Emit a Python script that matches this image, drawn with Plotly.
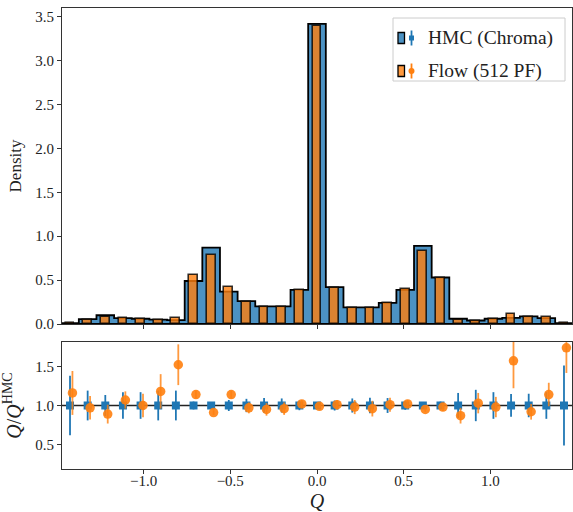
import plotly.graph_objects as go

# ---------------- data ----------------
bin_index = list(range(-14, 15))
bin_width = 0.1017

hmc_density = [0.010, 0.055, 0.100, 0.068, 0.060, 0.050, 0.045, 0.490, 0.870, 0.370,
               0.260, 0.200, 0.200, 0.390, 3.420, 0.420, 0.190, 0.190, 0.240, 0.390,
               0.890, 0.530, 0.060, 0.040, 0.060, 0.070, 0.087, 0.068, 0.010]
flow_density = [0.012, 0.050, 0.085, 0.065, 0.060, 0.050, 0.068, 0.560, 0.790, 0.420,
                0.250, 0.195, 0.195, 0.390, 3.390, 0.410, 0.185, 0.185, 0.245, 0.400,
                0.830, 0.520, 0.050, 0.040, 0.055, 0.110, 0.080, 0.078, 0.017]

hmc_ratio = [1.0] * 29
hmc_ratio_err = [0.38, 0.19, 0.134, 0.17, 0.17, 0.19, 0.19, 0.05, 0.035, 0.07,
                 0.085, 0.094, 0.09, 0.06, 0.02, 0.064, 0.09, 0.10, 0.095, 0.055,
                 0.03, 0.05, 0.16, 0.20, 0.17, 0.145, 0.15, 0.17, 0.51]
flow_ratio = [1.16, 0.97, 0.89, 1.07, 1.00, 1.18, 1.52, 1.14, 0.91, 1.14,
              0.97, 0.95, 0.96, 1.02, 0.99, 1.01, 0.98, 0.96, 1.01, 1.02,
              0.95, 0.98, 0.87, 1.03, 0.98, 1.57, 0.92, 1.14, 1.735]
flow_ratio_err = [0.28, 0.15, 0.12, 0.11, 0.15, 0.22, 0.26, 0.05, 0.03, 0.05,
                  0.07, 0.08, 0.08, 0.05, 0.02, 0.06, 0.09, 0.10, 0.09, 0.05,
                  0.03, 0.05, 0.10, 0.13, 0.13, 0.35, 0.10, 0.15, 0.32]

series_names = ["HMC (Chroma)", "Flow (512 PF)"]
x_ticks = [-1.0, -0.5, 0.0, 0.5, 1.0]
top_y_ticks = [0.0, 0.5, 1.0, 1.5, 2.0, 2.5, 3.0, 3.5]
bottom_y_ticks = [0.5, 1.0, 1.5]

# ---------------- derived ----------------
centers = [k * bin_width for k in bin_index]
edges = [c - bin_width / 2 for c in centers] + [centers[-1] + bin_width / 2]
flow_offset = 0.014
flow_x = [c + flow_offset for c in centers]

# step outline (stepfilled-style)
step_x = [edges[0]] + edges[:-1] + [edges[-1], edges[-1], edges[0]]
step_y = [0.0] + hmc_density + [hmc_density[-1], 0.0, 0.0]

BLUE = "#1f77b4"
ORANGE = "#ff7f0e"
FONT = "Liberation Serif"
AX = "#333333"

fig = go.Figure()

# HMC histogram fill
fig.add_trace(go.Bar(x=centers, y=hmc_density, width=bin_width,
                     marker=dict(color="rgba(31,119,180,0.8)", line=dict(width=0)),
                     xaxis="x", yaxis="y", showlegend=False, hoverinfo="skip"))
# HMC step outline
fig.add_trace(go.Scatter(x=step_x, y=step_y, mode="lines", line_shape="hv",
                         line=dict(color="black", width=1.8),
                         xaxis="x", yaxis="y", showlegend=False, hoverinfo="skip"))
# Flow bars (overlay axes -> drawn on top)
fig.add_trace(go.Bar(x=centers, y=flow_density, width=bin_width * 0.5,
                     marker=dict(color="rgba(255,127,14,0.8)",
                                 line=dict(color="rgba(0,0,0,0.8)", width=1.6)),
                     xaxis="x3", yaxis="y3", showlegend=False))

# ratio panel
fig.add_trace(go.Scatter(x=centers, y=hmc_ratio, mode="markers",
                         marker=dict(symbol="square", size=8, color=BLUE),
                         error_y=dict(type="data", array=hmc_ratio_err, width=0,
                                      thickness=1.8, color=BLUE),
                         xaxis="x2", yaxis="y2", showlegend=False))
fig.add_trace(go.Scatter(x=flow_x, y=flow_ratio, mode="markers",
                         marker=dict(symbol="circle", size=9.5, color=ORANGE, opacity=0.9),
                         error_y=dict(type="data", array=flow_ratio_err, width=0,
                                      thickness=1.8, color="rgba(255,127,14,0.8)"),
                         xaxis="x2", yaxis="y2", showlegend=False))

xr = [-1.47, 1.47]
axis_common = dict(showline=True, linecolor=AX, linewidth=1.2, mirror=True,
                   ticks="outside", ticklen=4, tickwidth=1, tickcolor=AX,
                   showgrid=False, zeroline=False,
                   tickfont=dict(family=FONT, size=15, color="#222"))

top_dom = [0.3145, 1.0]
bot_dom = [0.0, 0.2755]

fig.update_layout(
    width=573, height=512,
    margin=dict(l=62, r=1, t=8, b=43, autoexpand=False),
    plot_bgcolor="white", paper_bgcolor="white",
    barmode="overlay", bargap=0,
    xaxis=dict(domain=[0, 1], anchor="y", range=xr, tickvals=x_ticks,
               showticklabels=False, **axis_common),
    yaxis=dict(domain=top_dom, anchor="x", range=[0, 3.6], tickvals=top_y_ticks,
               tickformat=".1f",
               title=dict(text="Density", font=dict(family=FONT, size=17, color="#222"),
                          standoff=9),
               **axis_common),
    xaxis3=dict(overlaying="x", range=xr, visible=False, showgrid=False, zeroline=False),
    yaxis3=dict(overlaying="y", range=[0, 3.6], visible=False, showgrid=False,
                zeroline=False),
    xaxis2=dict(domain=[0, 1], anchor="y2", range=xr, tickvals=x_ticks,
                tickformat=".1f", ticklabelstandoff=-6,
                title=dict(text="<i>Q</i>", font=dict(family=FONT, size=20, color="#222"),
                           standoff=9),
                **axis_common),
    yaxis2=dict(domain=bot_dom, anchor="x2", range=[0.19, 1.81], tickvals=bottom_y_ticks,
                tickformat=".1f",
                title=dict(text="<i>Q</i>/<i>Q</i><sup>HMC</sup>",
                           font=dict(family=FONT, size=20, color="#222"), standoff=8),
                **axis_common),
)

# reference line at ratio 1
fig.add_shape(type="line", xref="x2 domain", yref="y2", x0=0, x1=1, y0=1, y1=1,
              line=dict(color="#222", width=1.3), layer="below")

# ---------------- manual legend ----------------
W, H, L, B = 510.0, 461.0, 62.0, 469.0
def px(x):
    return (x - L) / W
def py(y):
    return (B - y) / H

fig.add_shape(type="rect", xref="paper", yref="paper",
              x0=px(393), x1=px(565), y0=py(81), y1=py(18),
              fillcolor="rgba(255,255,255,0.85)", line=dict(color="#cccccc", width=1))

rows = [(38, "rgba(31,119,180,0.8)", BLUE, "square"),
        (71, "rgba(255,127,14,0.8)", ORANGE, "circle")]
for (yc, fill, col, sym), name in zip(rows, series_names):
    fig.add_shape(type="rect", xref="paper", yref="paper",
                  x0=px(398), x1=px(404.5), y0=py(yc + 5.5), y1=py(yc - 5.5),
                  fillcolor=fill, line=dict(color="black", width=1.3))
    fig.add_shape(type="line", xref="paper", yref="paper",
                  x0=px(411.5), x1=px(411.5), y0=py(yc + 7.5), y1=py(yc - 7.5),
                  line=dict(color=col, width=1.8))
    if sym == "square":
        fig.add_shape(type="rect", xref="paper", yref="paper",
                      x0=px(409), x1=px(414), y0=py(yc + 2.5), y1=py(yc - 2.5),
                      fillcolor=col, line=dict(width=0))
    else:
        fig.add_shape(type="circle", xref="paper", yref="paper",
                      x0=px(408.5), x1=px(414.5), y0=py(yc + 3), y1=py(yc - 3),
                      fillcolor=col, line=dict(width=0))
    fig.add_annotation(xref="paper", yref="paper", x=px(426), y=py(yc),
                       xanchor="left", yanchor="middle", showarrow=False,
                       text=name, font=dict(family=FONT, size=19.5, color="#222"))

fig.write_html("out.html",
               config={"displayModeBar": False},
               post_script="document.body.style.margin='0';"
                           "document.body.style.overflow='hidden';")
